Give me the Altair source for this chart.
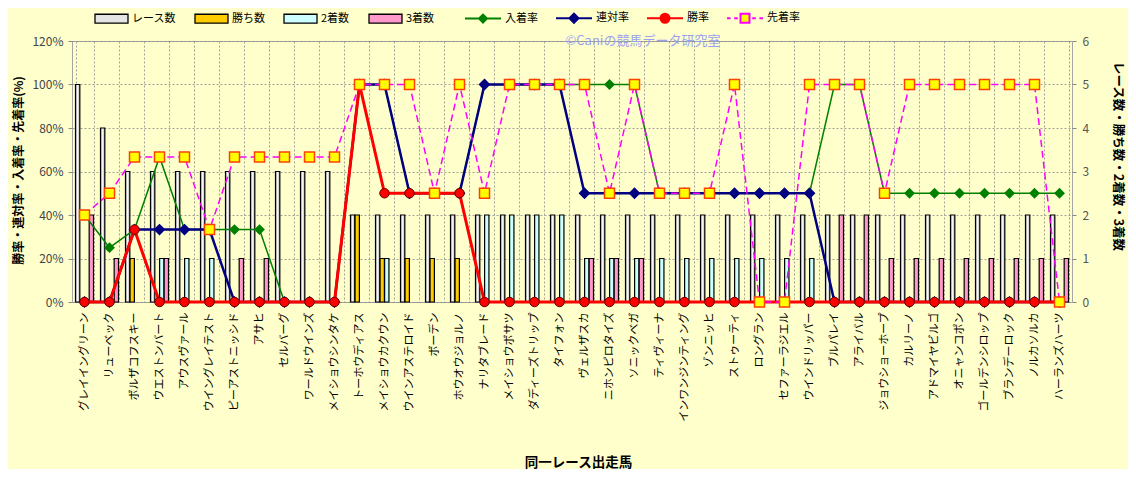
import altair as alt
import pandas as pd

FONT = "Noto Sans CJK JP"

horses = [
    "グレイイングリーン", "リューベック", "ボルザコフスキー", "ウエストンバート", "アウスヴァール",
    "ウイングレイテスト", "ピーアストニッシド", "アサヒ", "セルバーグ", "ワールドウインズ",
    "メイショウシンタケ", "トーホウディアス", "メイショウカクウン", "ウインアステロイド", "ボーデン",
    "ホウオウジョルノ", "ナリタブレード", "メイショウボサツ", "ダディーズトリップ", "タイフォン",
    "ヴェルザスカ", "ニホンピロタイズ", "ソニックベガ", "ティヴィーナ", "インワンジンティング",
    "ゾンニッヒ", "ストゥーティ", "ロングラン", "セファーラジエル", "ウインドリッパー",
    "ブルパレイ", "アライバル", "ジョウショーホープ", "カルリーノ", "アドマイヤビルゴ",
    "オニャンコポン", "ゴールデンシロップ", "ブランデーロック", "ノルカソルカ", "ハーランズハーツ",
]

races   = [5, 4, 3, 3, 3, 3, 3, 3, 3, 3, 3, 2, 2, 2, 2, 2, 2, 2, 2, 2,
           2, 2, 2, 2, 2, 2, 2, 2, 2, 2, 2, 2, 2, 2, 2, 2, 2, 2, 2, 2]
wins    = [0, 0, 1, 0, 0, 0, 0, 0, 0, 0, 0, 2, 1, 1, 1, 1, 0, 0, 0, 0,
           0, 0, 0, 0, 0, 0, 0, 0, 0, 0, 0, 0, 0, 0, 0, 0, 0, 0, 0, 0]
seconds = [0, 0, 0, 1, 1, 1, 0, 0, 0, 0, 0, 0, 1, 0, 0, 0, 2, 2, 2, 2,
           1, 1, 1, 1, 1, 1, 1, 1, 1, 1, 0, 0, 0, 0, 0, 0, 0, 0, 0, 0]
thirds  = [2, 1, 0, 1, 0, 0, 1, 1, 0, 0, 0, 0, 0, 0, 0, 0, 0, 0, 0, 0,
           1, 1, 1, 0, 0, 0, 0, 0, 0, 0, 2, 2, 1, 1, 1, 1, 1, 1, 1, 1]

# rates (%)
nyu_rate = [40, 25, 33.3, 66.7, 33.3, 33.3, 33.3, 33.3, 0, 0, 0, 100, 100, 50, 50, 50, 100, 100, 100, 100,
            100, 100, 100, 50, 50, 50, 50, 50, 50, 50, 100, 100, 50, 50, 50, 50, 50, 50, 50, 50]
ren_rate = [0, 0, 33.3, 33.3, 33.3, 33.3, 0, 0, 0, 0, 0, 100, 100, 50, 50, 50, 100, 100, 100, 100,
            50, 50, 50, 50, 50, 50, 50, 50, 50, 50, 0, 0, 0, 0, 0, 0, 0, 0, 0, 0]
sho_rate = [0, 0, 33.3, 0, 0, 0, 0, 0, 0, 0, 0, 100, 50, 50, 50, 50, 0, 0, 0, 0,
            0, 0, 0, 0, 0, 0, 0, 0, 0, 0, 0, 0, 0, 0, 0, 0, 0, 0, 0, 0]
sen_rate = [40, 50, 66.7, 66.7, 66.7, 33.3, 66.7, 66.7, 66.7, 66.7, 66.7, 100, 100, 100, 50, 100, 50, 100, 100, 100,
            100, 50, 100, 50, 50, 50, 100, 0, 0, 100, 100, 100, 50, 100, 100, 100, 100, 100, 100, 0]

bar_series = ["レース数", "勝ち数", "2着数", "3着数"]
bar_colors = ["#E4E4E4", "#FFCC00", "#CCFFFF", "#FF99CC"]
line_series = ["入着率", "連対率", "勝率", "先着率"]
watermark_text = ["©Caniの競馬データ研究室"]

rows = []
for i, h in enumerate(horses):
    for s, vals in zip(bar_series, [races, wins, seconds, thirds]):
        rows.append({"horse": h, "series": s, "value": vals[i]})
bars_df = pd.DataFrame(rows)
rates_df = pd.DataFrame({"horse": horses, "nyu": nyu_rate, "ren": ren_rate,
                         "sho": sho_rate, "sen": sen_rate})
legend_df = pd.DataFrame({"lseries": line_series})
wm_df = pd.DataFrame({"horse": ["タイフォン"], "y": [120], "t": watermark_text})

x_axis = alt.Axis(
    title="同一レース出走馬", labelAngle=270, labelFontSize=11, labelColor="black",
    labelPadding=10, ticks=False, domain=False, grid=True, tickBand="extent",
    gridColor="#8A8A8A", gridDash=[2, 2], gridWidth=0.8,
    titleFontSize=13.5, titleFontWeight="bold", titleColor="black",
    titleX=506, titleY=160, titleAlign="center", titleBaseline="middle",
    labelFont=FONT, titleFont=FONT,
)
x_enc = alt.X("horse:N", scale=alt.Scale(domain=horses, paddingInner=0.28, paddingOuter=0.14),
              axis=x_axis)

y_left_axis = alt.Axis(
    orient="left", values=[0, 20, 40, 60, 80, 100, 120], labelExpr="datum.value + '%'",
    title="勝率・連対率・入着率・先着率(%)", grid=True, gridColor="#8A8A8A", gridDash=[2, 2],
    gridWidth=0.8, domain=False, tickSize=4, tickColor="#888888", labelColor="#444444",
    labelFontSize=12, labelPadding=5, titleAngle=270, titleX=-54, titleY=129,
    titleAlign="center", titleBaseline="middle", titleFontSize=12, titleFontWeight="bold",
    titleColor="black", labelFont=FONT, titleFont=FONT,
)


def yenc(f):
    return alt.Y(f"{f}:Q", scale=alt.Scale(domain=[0, 120]), axis=y_left_axis)


gradient = {
    "gradient": "linear", "x1": 0, "y1": 0, "x2": 1, "y2": 0,
    "stops": [{"offset": 0, "color": "#9A9A9A"}, {"offset": 0.5, "color": "#FFFFFF"},
              {"offset": 1, "color": "#9A9A9A"}],
}

bar_legend = alt.Legend(
    title=None, orient="none", legendX=22, legendY=-40, direction="horizontal", columns=4,
    symbolType="M-1,-0.27H1V0.27H-1Z", symbolSize=1089, symbolStrokeColor="black",
    symbolStrokeWidth=1.3, labelFontSize=11, labelFont=FONT, labelColor="black",
    columnPadding=16, labelOffset=3, padding=0,
)

bars = alt.Chart(bars_df).transform_filter("datum.value > 0").mark_bar(
    stroke="black", strokeWidth=1.2
).encode(
    x=x_enc,
    xOffset=alt.XOffset("series:N", scale=alt.Scale(domain=bar_series, paddingInner=0.05)),
    y=alt.Y("value:Q", scale=alt.Scale(domain=[0, 6]),
            axis=alt.Axis(orient="right", values=[0, 1, 2, 3, 4, 5, 6],
                          title="レース数・勝ち数・2着数・3着数", grid=False, domain=False,
                          tickSize=4, tickColor="#888888", labelColor="#555555",
                          labelFontSize=12, labelPadding=6, titleAngle=90, titleX=45,
                          titleY=115, titleAlign="center", titleBaseline="middle",
                          titleFontSize=12.5, titleFontWeight="bold", titleColor="black",
                          labelFont=FONT, titleFont=FONT)),
    fill=alt.condition(
        "datum.series === 'レース数'", alt.value(gradient),
        alt.Fill("series:N", scale=alt.Scale(domain=bar_series, range=bar_colors),
                 legend=bar_legend),
    ),
)

base = alt.Chart(rates_df)

watermark = alt.Chart(wm_df).mark_text(
    align="left", baseline="middle", fontSize=13, color="#9AA2F0", font=FONT, dx=6
).encode(
    x=x_enc,
    y=alt.Y("y:Q", scale=alt.Scale(domain=[0, 120]), axis=y_left_axis),
    text="t:N",
)

green_line = base.mark_line(color="#008000", strokeWidth=1.5).encode(x=x_enc, y=yenc("nyu"))
green_pts = base.mark_point(shape="diamond", filled=True, size=64, fill="#008000",
                            stroke="#008000", opacity=1).encode(x=x_enc, y=yenc("nyu"))
navy_line = base.mark_line(color="#000080", strokeWidth=2.5).encode(x=x_enc, y=yenc("ren"))
navy_pts = base.mark_point(shape="diamond", filled=True, size=81, fill="#000080",
                           stroke="#000080", opacity=1).encode(x=x_enc, y=yenc("ren"))
red_line = base.mark_line(color="#FF0000", strokeWidth=3).encode(x=x_enc, y=yenc("sho"))
red_pts = base.mark_point(shape="circle", filled=True, size=90, fill="#FF0000",
                          stroke="#600000", strokeWidth=1, opacity=1).encode(x=x_enc, y=yenc("sho"))
mag_line = base.mark_line(color="#FF00FF", strokeWidth=1.5, strokeDash=[7, 4]).encode(
    x=x_enc, y=yenc("sen"))
mag_pts = base.mark_point(shape="square", filled=True, size=100, fill="#FFFF00",
                          stroke="#FF4000", strokeWidth=1.5, opacity=1).encode(x=x_enc, y=yenc("sen"))

line_paths = [
    "M-1,0H-0.22M0.22,0H1M-0.22,0L0,-0.22L0.22,0L0,0.22Z",
    "M-1,0H-0.25M0.25,0H1M-0.25,0L0,-0.25L0.25,0L0,0.25Z",
    "M-1,0H-0.25M0.25,0H1M-0.25,0A0.25,0.25,0,1,1,0.25,0A0.25,0.25,0,1,1,-0.25,0Z",
    "M-1,0H-0.8M-0.6,0H-0.4M0.4,0H0.6M0.8,0H1M-0.25,-0.25H0.25V0.25H-0.25Z",
]
line_fill = ["#008000", "#000080", "#FF0000", "#FFFF00"]
line_stroke = ["#008000", "#000080", "#FF0000", "#FF00FF"]

line_legend = alt.Legend(
    title=None, orient="none", legendX=392, legendY=-42, direction="horizontal", columns=4,
    symbolSize=1296, symbolStrokeWidth=2, labelFontSize=11, labelFont=FONT, labelColor="black",
    columnPadding=14, labelOffset=3, padding=0,
)

legend_layer = alt.Chart(legend_df).transform_filter("false").mark_point(
    filled=True, opacity=1
).encode(
    shape=alt.Shape("lseries:N", scale=alt.Scale(domain=line_series, range=line_paths),
                    legend=line_legend),
    fill=alt.Fill("lseries:N", scale=alt.Scale(domain=line_series, range=line_fill),
                  legend=line_legend),
    stroke=alt.Stroke("lseries:N", scale=alt.Scale(domain=line_series, range=line_stroke),
                      legend=line_legend),
)

lines = alt.layer(watermark, green_line, green_pts, navy_line, navy_pts, red_line, red_pts,
                  mag_line, mag_pts, legend_layer)

chart = alt.layer(bars, lines).resolve_scale(
    y="independent", fill="independent", stroke="independent", shape="independent"
).properties(
    width=1000, height=261,
    autosize=alt.AutoSizeParams(type="none"),
    padding={"left": 64, "top": 33, "right": 56, "bottom": 167},
).configure(
    background="#FFFFCC", font=FONT,
).configure_view(
    fill="#DCE6F2", stroke="#A6A6A6", strokeWidth=1,
)

chart.save("out.html", embed_options={"renderer": "svg", "actions": False})
